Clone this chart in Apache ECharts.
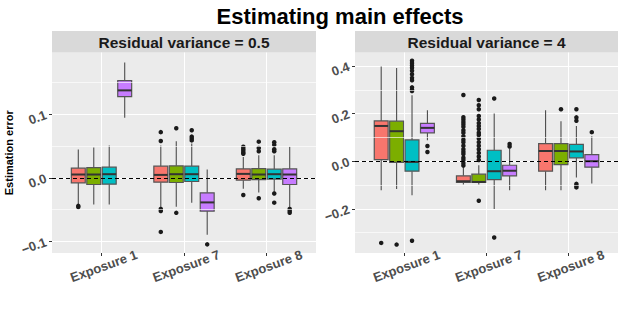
<!DOCTYPE html>
<html><head><meta charset="utf-8">
<script src="https://cdn.jsdelivr.net/npm/echarts@6/dist/echarts.min.js"></script>
<style>html,body{margin:0;padding:0;background:#fff}#c{width:623px;height:312px}</style>
</head><body><div id="c"></div>
<script>
// ---------- data ----------
const categories = ['Exposure 1', 'Exposure 7', 'Exposure 8'];
const methods = ['Method 1', 'Method 2', 'Method 3', 'Method 4'];
const panelTitles = ['Residual variance = 0.5', 'Residual variance = 4'];
const mainTitle = 'Estimating main effects';
const yTitle = 'Estimation error';
const referenceLine = 0;

// y ticks and labels per panel
const yTicks05 = [-0.1, 0.0, 0.1];
const yLabels05 = ['\u22120.1', '0.0', '0.1'];
const yMinor05 = [-0.05, 0.05, 0.15];
const yTicks4 = [-0.2, 0.0, 0.2, 0.4];
const yLabels4 = ['\u22120.2', '0.0', '0.2', '0.4'];
const yMinor4 = [-0.3, -0.1, 0.1, 0.3];
const yRange05 = [-0.1182, 0.1973];
const yRange4 = [-0.3853, 0.4564];

// box stats per category: [lower whisker, Q1, median, Q3, upper whisker]
const box05M1 = [[-0.043, -0.0078, 0.0053, 0.0152, 0.0446], [-0.046, -0.0068, 0.0047, 0.0184, 0.051], [-0.017, -0.0036, 0.0063, 0.0141, 0.033]];
const box05M2 = [[-0.042, -0.0104, 0.0053, 0.0163, 0.0477], [-0.0455, -0.0073, 0.0058, 0.0189, 0.0576], [-0.023, -0.0026, 0.0053, 0.0147, 0.0356]];
const box05M3 = [[-0.042, -0.0099, 0.0058, 0.0168, 0.0508], [-0.039, -0.0057, 0.0058, 0.0184, 0.054], [-0.023, -0.002, 0.0058, 0.0137, 0.0356]];
const box05M4 = [[0.0948, 0.128, 0.1377, 0.153, 0.1816], [-0.0894, -0.0523, -0.0386, -0.0235, 0.0132], [-0.047, -0.0104, 0.0053, 0.0141, 0.049]];

const box4M1 = [[-0.122, 0.007, 0.148, 0.169, 0.398], [-0.098, -0.089, -0.084, -0.0615, -0.02], [-0.122, -0.042, 0.043, 0.074, 0.214]];
const box4M2 = [[-0.117, -0.005, 0.126, 0.168, 0.391], [-0.098, -0.089, -0.087, -0.0545, -0.017], [-0.122, -0.014, 0.043, 0.074, 0.168]];
const box4M3 = [[-0.143, -0.042, -0.003, 0.0894, 0.277], [-0.201, -0.077, -0.042, 0.046, 0.2], [-0.068, 0.014, 0.041, 0.071, 0.148]];
const box4M4 = [[0.088, 0.119, 0.14, 0.159, 0.214], [-0.122, -0.0615, -0.04, -0.017, 0.053], [-0.094, -0.025, 0.0, 0.028, 0.105]];

// outliers per category
const out05M1 = [[-0.044, -0.046], [0.072, 0.058, -0.049, -0.052, -0.085], [0.049, 0.046, 0.043, 0.040, 0.038, -0.027]];
const out05M2 = [[], [0.078, -0.055], [0.057, 0.047, 0.042, -0.032]];
const out05M3 = [[], [0.075, 0.065, 0.062, 0.059], [0.056, 0.052, 0.045, 0.042, -0.0245, -0.039]];
const out05M4 = [[], [-0.1046], [-0.049, -0.052, -0.055]];

const out4M1 = [[-0.343], [0.278, 0.185, 0.175, 0.165, 0.155, 0.145, 0.13, 0.12, 0.105, 0.09, 0.08, 0.065, 0.05, 0.04, 0.03, 0.015, 0.005, -0.008, -0.018], []];
const out4M2 = [[-0.35], [0.257, 0.235, 0.218, 0.19, 0.175, 0.16, 0.148, 0.135, 0.12, 0.11, 0.095, 0.08, 0.065, 0.05, 0.035, 0.02, 0.005, -0.166], [0.218]];
const out4M3 = [[0.422, 0.412, 0.402, 0.392, 0.38, 0.365, 0.35, 0.34, 0.31, 0.3, 0.295, -0.334], [0.263, -0.32], [0.218, 0.184, 0.17, -0.095, -0.103, -0.11]];
const out4M4 = [[0.064, 0.039], [0.072, 0.062], [0.122]];

// ---------- styling / layout ----------
const colors = ['#F8766D', '#7CAE00', '#00BFC4', '#C77CFF'];
const SLOT = 0.1875;          // dodge slot width (category units)
const BOXW = SLOT * 0.9;      // box width
const FONT = '"Liberation Sans", Arial, Helvetica, sans-serif';
const grids = [
  {left: 52, top: 52.5, width: 264, height: 200.5},
  {left: 355, top: 52.5, width: 263, height: 200.5}
];
const panels = [
  {range: yRange05, ticks: yTicks05, labels: yLabels05, minor: yMinor05, boxes: [box05M1, box05M2, box05M3, box05M4], outs: [out05M1, out05M2, out05M3, out05M4]},
  {range: yRange4, ticks: yTicks4, labels: yLabels4, minor: yMinor4, boxes: [box4M1, box4M2, box4M3, box4M4], outs: [out4M1, out4M2, out4M3, out4M4]}
];
const catIdx = categories.map((c, i) => i);

function boxRenderer(k) {
  return function (params, api) {
    const x = api.value(0) + (k - 1.5) * SLOT;
    const pLow = api.coord([x, api.value(1)]);
    const pQ1 = api.coord([x, api.value(2)]);
    const pMed = api.coord([x, api.value(3)]);
    const pQ3 = api.coord([x, api.value(4)]);
    const pHigh = api.coord([x, api.value(5)]);
    const left = api.coord([x - BOXW / 2, api.value(3)])[0];
    const right = api.coord([x + BOXW / 2, api.value(3)])[0];
    const wStyle = {stroke: '#4D4D4D', lineWidth: 1.1};
    return {
      type: 'group',
      children: [
        {type: 'line', shape: {x1: pLow[0], y1: pLow[1], x2: pQ1[0], y2: pQ1[1]}, style: wStyle},
        {type: 'line', shape: {x1: pQ3[0], y1: pQ3[1], x2: pHigh[0], y2: pHigh[1]}, style: wStyle},
        {type: 'rect', shape: {x: left, y: pQ3[1], width: right - left, height: pQ1[1] - pQ3[1]},
          style: {fill: colors[k], stroke: '#555555', lineWidth: 1.2}},
        {type: 'line', shape: {x1: left, y1: pMed[1], x2: right, y2: pMed[1]}, style: {stroke: '#333333', lineWidth: 2}}
      ]
    };
  };
}

const xAxes = [], yAxes = [], series = [], graphics = [];
panels.forEach((p, gi) => {
  xAxes.push({
    gridIndex: gi, type: 'value', min: -0.6, max: 2.6,
    axisLine: {show: false, onZero: false},
    axisTick: {show: true, length: 3, customValues: catIdx, lineStyle: {color: '#333333', width: 1}},
    axisLabel: {
      customValues: catIdx, rotate: 20, align: 'center', verticalAlign: 'top', margin: 7,
      fontSize: 13, fontWeight: 'bold', color: '#4D4D4D', fontFamily: FONT,
      formatter: v => categories[Math.round(v)] || ''
    },
    splitLine: {show: true, lineStyle: {color: '#FFFFFF', width: 1.1}}
  });
  yAxes.push({
    gridIndex: gi, type: 'value', min: p.range[0], max: p.range[1],
    axisLine: {show: false, onZero: false},
    axisTick: {show: true, length: 3, customValues: p.ticks, lineStyle: {color: '#333333', width: 1}},
    axisLabel: {
      customValues: p.ticks, rotate: 20, margin: 6,
      fontSize: 13, fontWeight: 'bold', color: '#4D4D4D', fontFamily: FONT,
      formatter: v => {
        const i = p.ticks.findIndex(t => Math.abs(t - v) < 1e-9);
        return i >= 0 ? p.labels[i] : '';
      }
    },
    splitLine: {show: true, lineStyle: {color: '#FFFFFF', width: 1.1}},
    name: gi === 0 ? yTitle : '',
    nameLocation: 'middle', nameRotate: 90, nameGap: 38,
    nameTextStyle: {fontSize: 11, fontWeight: 'bold', color: '#000000', fontFamily: FONT}
  });
  // minor grid lines
  series.push({
    type: 'line', xAxisIndex: gi, yAxisIndex: gi, data: [], z: 1, silent: true,
    markLine: {
      silent: true, symbol: ['none', 'none'], label: {show: false}, animation: false,
      lineStyle: {color: '#FFFFFF', width: 0.7, type: 'solid', opacity: 0.9},
      emphasis: {disabled: true},
      data: p.minor.map(v => ({yAxis: v}))
    }
  });
  methods.forEach((m, k) => {
    series.push({
      type: 'custom', name: m, xAxisIndex: gi, yAxisIndex: gi, z: 3,
      renderItem: boxRenderer(k),
      encode: {x: 0, y: [1, 2, 3, 4, 5]},
      data: p.boxes[k].map((b, ci) => [ci].concat(b))
    });
    const pts = [];
    p.outs[k].forEach((vals, ci) => vals.forEach(v => pts.push([ci + (k - 1.5) * SLOT, v])));
    series.push({
      type: 'scatter', name: m, xAxisIndex: gi, yAxisIndex: gi, z: 4,
      symbolSize: 4.5, itemStyle: {color: '#1A1A1A', opacity: 1},
      data: pts
    });
  });
  // dashed reference line at zero
  series.push({
    type: 'line', xAxisIndex: gi, yAxisIndex: gi, data: [], z: 6, silent: true,
    markLine: {
      silent: true, symbol: ['none', 'none'], label: {show: false}, animation: false,
      lineStyle: {color: '#000000', width: 1, type: [4, 3]},
      emphasis: {disabled: true},
      data: [{yAxis: referenceLine}]
    }
  });
  const g = grids[gi];
  graphics.push({
    type: 'rect', left: g.left, top: 31, shape: {width: g.width, height: 21.5},
    style: {fill: '#D9D9D9'}, silent: true
  });
  graphics.push({
    type: 'text', x: g.left + g.width / 2, y: 42,
    style: {text: panelTitles[gi], textAlign: 'center', textVerticalAlign: 'middle',
      font: 'bold 15.5px ' + FONT, fill: '#1A1A1A'}, silent: true
  });
});

const chart = echarts.init(document.getElementById('c'), null, {renderer: 'svg'});
chart.setOption({
  animation: false,
  backgroundColor: '#FFFFFF',
  title: {
    text: mainTitle, left: 335, textAlign: 'center', top: 0,
    textStyle: {fontSize: 22, fontWeight: 'bold', color: '#000000', fontFamily: FONT}
  },
  grid: grids.map(g => Object.assign({show: true, backgroundColor: '#EBEBEB', borderWidth: 0, containLabel: false}, g)),
  xAxis: xAxes,
  yAxis: yAxes,
  series: series,
  graphic: graphics
});
</script>
</body></html>
